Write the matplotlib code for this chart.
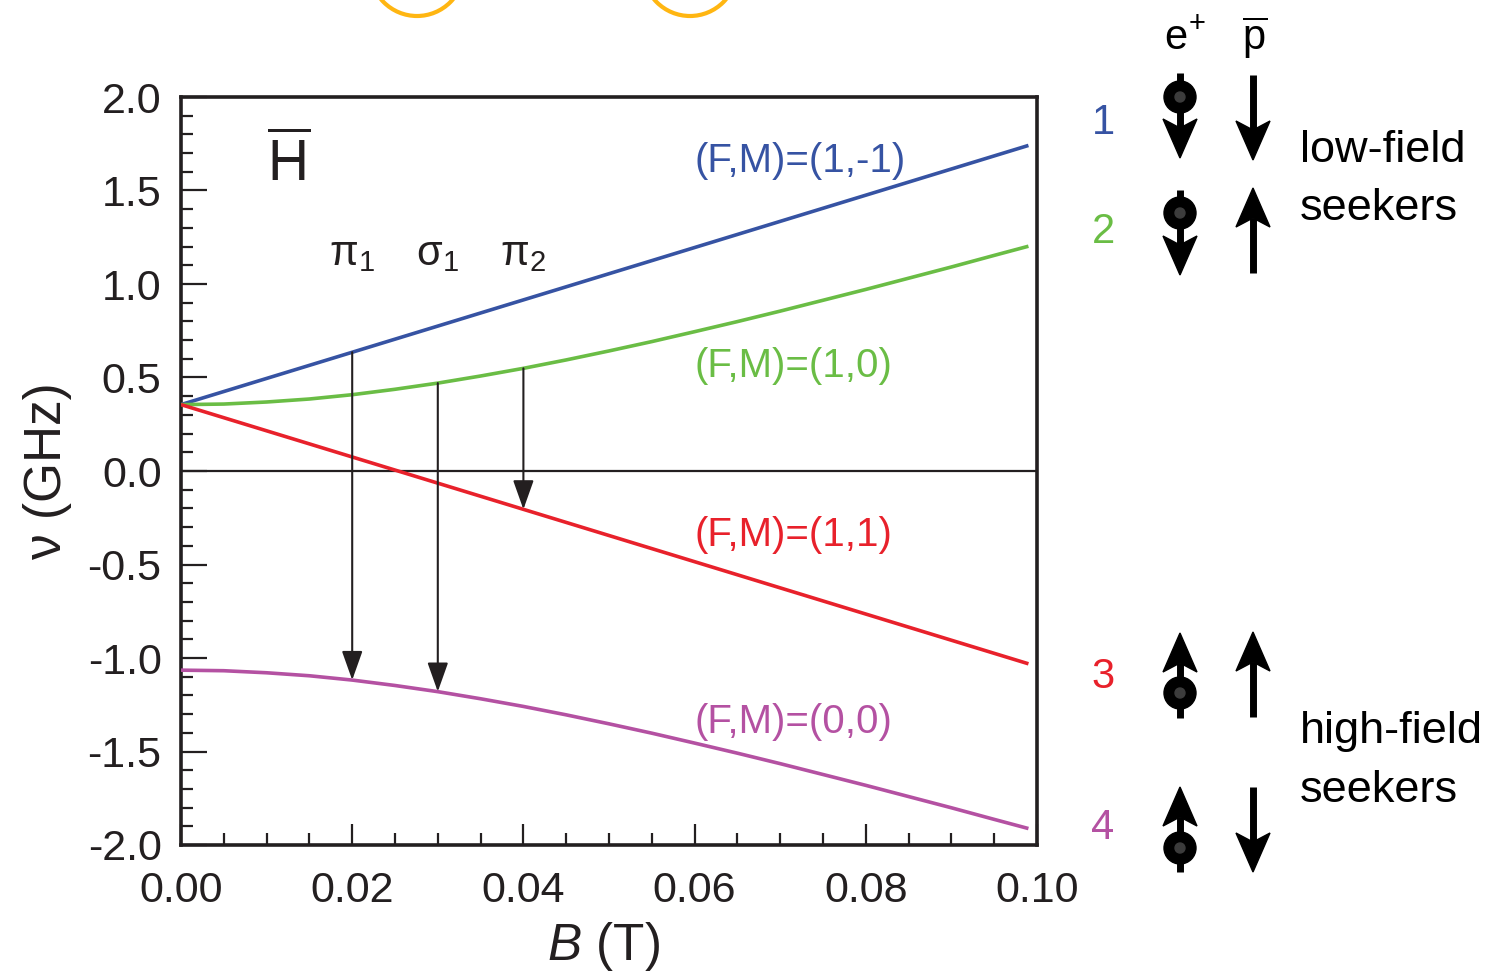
import matplotlib
matplotlib.use('Agg')
import matplotlib.pyplot as plt
import matplotlib.ticker as ticker
from matplotlib.patches import Circle, Polygon

plt.rcParams['font.family'] = ['Liberation Sans', 'DejaVu Sans']
plt.rcParams['mathtext.fontset'] = 'custom'
plt.rcParams['mathtext.rm'] = 'Liberation Sans'
plt.rcParams['mathtext.it'] = 'Liberation Sans:italic'
plt.rcParams['mathtext.bf'] = 'Liberation Sans:bold'

black = '#231f20'
blue = '#3653a3'
green = '#6abd45'
red = '#e8212b'
magenta = '#b451a2'
orange = '#ffb612'

# magnetic field (T) and level energies (GHz)
field = [0.0, 0.005, 0.01, 0.015, 0.02, 0.025, 0.03, 0.035, 0.04, 0.045, 0.05,
         0.055, 0.06, 0.065, 0.07, 0.075, 0.08, 0.085, 0.09, 0.095, 0.099]
level_1m1 = [0.355, 0.425, 0.495, 0.565, 0.635, 0.705, 0.775, 0.845, 0.915, 0.985, 1.055,
             1.125, 1.195, 1.265, 1.335, 1.405, 1.475, 1.545, 1.615, 1.685, 1.741]
level_10 = [0.355, 0.358, 0.369, 0.385, 0.408, 0.437, 0.470, 0.508, 0.549, 0.594, 0.642,
            0.692, 0.745, 0.799, 0.855, 0.913, 0.971, 1.031, 1.091, 1.153, 1.202]
level_11 = [0.355, 0.285, 0.215, 0.145, 0.075, 0.005, -0.065, -0.135, -0.205, -0.275, -0.345,
            -0.415, -0.485, -0.555, -0.625, -0.695, -0.765, -0.835, -0.905, -0.975, -1.031]
level_00 = [-1.065, -1.068, -1.079, -1.095, -1.118, -1.147, -1.180, -1.218, -1.259, -1.304, -1.352,
            -1.402, -1.455, -1.509, -1.565, -1.623, -1.681, -1.741, -1.801, -1.863, -1.912]

level_labels = ['(F,M)=(1,-1)', '(F,M)=(1,0)', '(F,M)=(1,1)', '(F,M)=(0,0)']
label_y = [1.66, 0.56, -0.34, -1.34]

# transitions: label, index into field, upper level, lower level
transitions = [('π$_1$', 4, '1m1', '00'),
               ('σ$_1$', 6, '10', '00'),
               ('π$_2$', 8, '10', '11')]

levels = {'1m1': level_1m1, '10': level_10, '11': level_11, '00': level_00}
colors = [blue, green, red, magenta]

fig = plt.figure(figsize=(15.03, 9.71), dpi=100)

# overlay in pixel units for the spin cartoon on the right
ov = fig.add_axes([0, 0, 1, 1])
ov.set_xlim(0, 1503)
ov.set_ylim(971, 0)
ov.axis('off')

ax = fig.add_axes([181 / 1503, 1 - 845 / 971, 856 / 1503, 748 / 971])

for key, col in zip(['1m1', '10', '11', '00'], colors):
    ax.plot(field, levels[key], color=col, lw=2.6, solid_capstyle='butt', zorder=3)

ax.axhline(0, color=black, lw=1.6, zorder=2)

for text, y, col in zip(level_labels, label_y, colors):
    ax.text(0.0600, y, text, color=col, fontsize=29, ha='left', va='center')

for text, i, hi, lo in transitions:
    b = field[i]
    ax.annotate('', xy=(b, levels[lo][i]), xytext=(b, levels[hi][i]),
                arrowprops=dict(arrowstyle='-|>,head_length=0.9,head_width=0.32',
                                mutation_scale=20, color=black, lw=1.5,
                                shrinkA=0, shrinkB=0), zorder=4)
    ax.text(b, 1.16, text, fontsize=30, ha='center', va='center', color=black)

ax.text(0.0100, 1.64, r'$\overline{\mathrm{H}}$', fontsize=41, ha='left',
        va='center', color=black)

ax.set_xlim(0, 0.10)
ax.set_ylim(-2.0, 2.0)
ax.xaxis.set_major_locator(ticker.MultipleLocator(0.02))
ax.xaxis.set_minor_locator(ticker.MultipleLocator(0.005))
ax.yaxis.set_major_locator(ticker.MultipleLocator(0.5))
ax.yaxis.set_minor_locator(ticker.MultipleLocator(0.1))
ax.xaxis.set_major_formatter(ticker.FormatStrFormatter('%.2f'))
ax.yaxis.set_major_formatter(ticker.FormatStrFormatter('%.1f'))
ax.tick_params(which='both', direction='in', top=False, right=False,
               labelsize=31, colors=black, width=1.6)
ax.tick_params(axis='x', which='major', length=15, pad=19)
ax.tick_params(axis='y', which='major', length=19, pad=14)
ax.tick_params(which='minor', length=8.5)
for s in ax.spines.values():
    s.set_linewidth(2.6)
    s.set_color(black)

ax.set_xlabel('$B$ (T)', fontsize=37, color=black)
ax.set_ylabel('ν (GHz)', fontsize=37, color=black)
ax.xaxis.set_label_coords(0.494, -0.1)
ax.yaxis.set_label_coords(-0.127, 0.5)

# orange rings cut by the top edge
for cx in [417, 690]:
    ov.add_patch(Circle((cx, -31), 47, fill=False, ec=orange, lw=3))


def spin(x, tail, tip, ball=None):
    d = 1 if tip > tail else -1
    back = tip - d * 39
    notch = back + d * 9
    ov.plot([x, x], [tail, notch], color='black', lw=5, solid_capstyle='butt')
    ov.add_patch(Polygon([(x, tip), (x - 17, back), (x, notch), (x + 17, back)],
                         closed=True, color='black'))
    if ball is not None:
        ov.add_patch(Circle((x, ball), 16, color='black', zorder=5))
        ov.add_patch(Circle((x, ball), 5, color='#3c3c3c', zorder=6))


# state 1
spin(1180, 73, 158, ball=97)
spin(1253, 75, 160)
# state 2
spin(1180, 190, 275, ball=213)
spin(1253, 273, 188)
# state 3
spin(1180, 718, 633, ball=693)
spin(1253, 717, 632)
# state 4
spin(1180, 872, 787, ball=848)
spin(1253, 787, 872)

ov.text(1185, 38, 'e$^{\\!+}$', fontsize=30, ha='center', va='center', color='black')
ov.text(1255, 38, r'$\overline{\mathrm{p}}$', fontsize=30, ha='center',
        va='center', color='black')

for num, y, col in zip(['1', '2', '3', '4'], [123, 232, 677, 828], colors):
    ov.text(1103, y, num, fontsize=30, ha='center', va='center', color=col)

ov.text(1300, 162, 'low-field', fontsize=32.5, ha='left', va='baseline', color='black')
ov.text(1300, 220, 'seekers', fontsize=32.5, ha='left', va='baseline', color='black')
ov.text(1300, 743, 'high-field', fontsize=32.5, ha='left', va='baseline', color='black')
ov.text(1300, 802, 'seekers', fontsize=32.5, ha='left', va='baseline', color='black')

fig.savefig('out.png', dpi=100)
